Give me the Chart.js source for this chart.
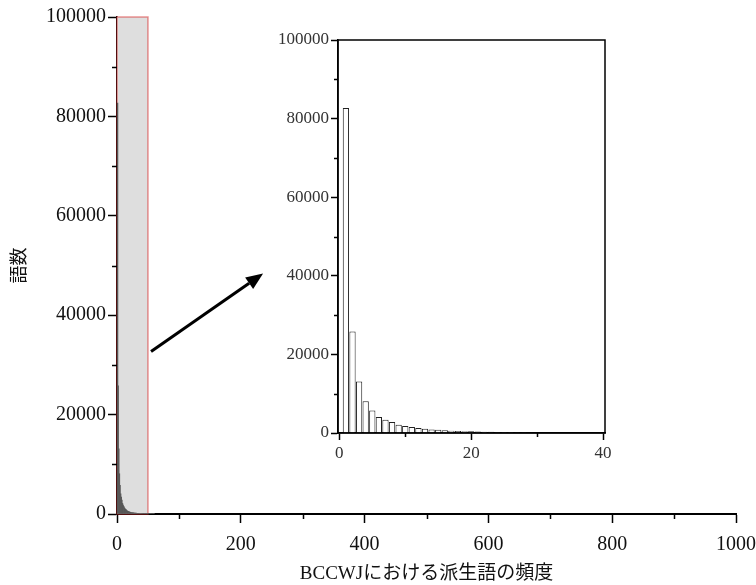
<!DOCTYPE html>
<html lang="ja">
<head>
  <meta charset="UTF-8">
  <title>BCCWJにおける派生語の頻度</title>
  <script src="https://cdn.jsdelivr.net/npm/chart.js"></script>
  <style>
    html, body { margin: 0; padding: 0; background: #fff; }
    #wrap { position: relative; width: 756px; height: 585px; }
    #mainChart { position: absolute; left: 0; top: 0; }
    #insetChart { position: absolute; left: 260px; top: 25px; }
  </style>
</head>
<body>
  <div id="wrap">
    <canvas id="mainChart" width="756" height="585"></canvas>
    <canvas id="insetChart" width="360" height="450"></canvas>
  </div>

  <script>
    // 頻度 (BCCWJ) と語数
    const freqs = [];
    for (let i = 1; i <= 60; i++) freqs.push(i);
    const wordCounts = [
      82700, 25800, 13100, 8100, 5750, 4080, 3380, 2800, 2120, 1780,
      1530, 1270, 1100, 920, 840, 680, 600, 530, 470, 420,
      380, 340, 310, 280, 260, 240, 220, 200, 185, 170,
      160, 150, 140, 130, 122, 115, 108, 100, 95, 90,
      85, 80, 76, 72, 68, 64, 61, 58, 55, 52,
      50, 47, 45, 43, 41, 39, 37, 35, 33, 31
    ];

    // 軸
    const mainXTicks = [0, 200, 400, 600, 800, 1000];
    const mainXMinor = [100, 300, 500, 700, 900];
    const mainYTicks = [0, 20000, 40000, 60000, 80000, 100000];
    const mainYMinor = [10000, 30000, 50000, 70000, 90000];
    const insetXTicks = [0, 20, 40];
    const insetXMinor = [10, 30];
    const insetYTicks = [0, 20000, 40000, 60000, 80000, 100000];
    const insetYMinor = [10000, 30000, 50000, 70000, 90000];

    // 拡大範囲と矢印 (データ座標)
    const zoomRange = { x0: 0, x1: 50, y0: 0, y1: 100000 };
    const arrowFrom = { x: 55, y: 32700 };
    const arrowTo = { x: 236, y: 48400 };

    const FONT = "'Liberation Serif', 'Noto Sans CJK JP', serif";
    const points = freqs.map((f, i) => ({ x: f, y: wordCounts[i] }));
    const plain = v => String(v);

    // 補助目盛り（短い）
    const minorTicks = {
      id: 'minorTicks',
      afterDraw(chart, args, opts) {
        const ctx = chart.ctx;
        const { x, y } = chart.scales;
        ctx.save();
        ctx.strokeStyle = '#000';
        ctx.lineWidth = 1.5;
        ctx.beginPath();
        (opts.x || []).forEach(v => {
          const px = Math.round(x.getPixelForValue(v)) + 0.5;
          ctx.moveTo(px, chart.chartArea.bottom);
          ctx.lineTo(px, chart.chartArea.bottom + opts.len);
        });
        (opts.y || []).forEach(v => {
          const py = Math.round(y.getPixelForValue(v)) + 0.5;
          ctx.moveTo(chart.chartArea.left, py);
          ctx.lineTo(chart.chartArea.left - opts.len, py);
        });
        ctx.stroke();
        ctx.restore();
      }
    };

    // 拡大範囲の網掛けと矢印
    const zoomBox = {
      id: 'zoomBox',
      beforeDatasetsDraw(chart) {
        const ctx = chart.ctx;
        const { x, y } = chart.scales;
        const l = x.getPixelForValue(zoomRange.x0), r = x.getPixelForValue(zoomRange.x1);
        const t = y.getPixelForValue(zoomRange.y1), b = y.getPixelForValue(zoomRange.y0);
        ctx.save();
        ctx.fillStyle = '#dedede';
        ctx.fillRect(l, t, r - l, b - t);
        ctx.strokeStyle = 'rgba(215, 40, 40, 0.5)';
        ctx.lineWidth = 1.5;
        ctx.strokeRect(l, t, r - l, b - t);
        ctx.restore();
      },
      afterDraw(chart) {
        const ctx = chart.ctx;
        const { x, y } = chart.scales;
        const x0 = x.getPixelForValue(arrowFrom.x), y0 = y.getPixelForValue(arrowFrom.y);
        const x1 = x.getPixelForValue(arrowTo.x), y1 = y.getPixelForValue(arrowTo.y);
        const ang = Math.atan2(y1 - y0, x1 - x0);
        const headLen = 17, headW = 7;
        ctx.save();
        ctx.strokeStyle = '#000';
        ctx.fillStyle = '#000';
        ctx.lineWidth = 3;
        ctx.beginPath();
        ctx.moveTo(x0, y0);
        ctx.lineTo(x1 - headLen * Math.cos(ang), y1 - headLen * Math.sin(ang));
        ctx.stroke();
        ctx.beginPath();
        ctx.moveTo(x1, y1);
        ctx.lineTo(x1 - headLen * Math.cos(ang) + headW * Math.sin(ang),
                   y1 - headLen * Math.sin(ang) - headW * Math.cos(ang));
        ctx.lineTo(x1 - headLen * Math.cos(ang) - headW * Math.sin(ang),
                   y1 - headLen * Math.sin(ang) + headW * Math.cos(ang));
        ctx.closePath();
        ctx.fill();
        ctx.restore();
      }
    };

    // 挿入図の枠
    const frameBox = {
      id: 'frameBox',
      afterDraw(chart) {
        const { left, right, top, bottom } = chart.chartArea;
        const ctx = chart.ctx;
        ctx.save();
        ctx.strokeStyle = '#000';
        ctx.lineWidth = 1.5;
        ctx.strokeRect(left, top, right - left, bottom - top);
        ctx.restore();
      }
    };

    new Chart(document.getElementById('mainChart'), {
      type: 'bar',
      data: {
        datasets: [{
          data: points,
          backgroundColor: '#575757',
          borderWidth: 0,
          barPercentage: 1,
          categoryPercentage: 1
        }]
      },
      options: {
        responsive: false,
        animation: false,
        layout: { padding: { top: 17, right: 20, left: 0, bottom: 0 } },
        plugins: {
          legend: { display: false },
          tooltip: { enabled: false },
          minorTicks: { x: mainXMinor, y: mainYMinor, len: 5 }
        },
        scales: {
          x: {
            type: 'linear',
            offset: false,
            min: 0, max: 1000,
            afterFit(s) { s.height = 71; s.paddingLeft = 0; s.paddingRight = 0; },
            afterBuildTicks(s) { s.ticks = mainXTicks.map(v => ({ value: v })); },
            grid: { offset: false, drawOnChartArea: false, tickLength: 9, tickWidth: 1.5, tickColor: '#000' },
            border: { color: '#000', width: 2 },
            ticks: { color: '#111', font: { family: FONT, size: 20 }, padding: 10, maxRotation: 0, callback: plain },
            title: { display: true, text: 'BCCWJにおける派生語の頻度', color: '#111',
                     font: { family: FONT, size: 19 }, padding: { top: 0, bottom: 0 } }
          },
          y: {
            min: 0, max: 100000,
            afterFit(s) { s.width = 117; },
            afterBuildTicks(s) { s.ticks = mainYTicks.map(v => ({ value: v })); },
            grid: { drawOnChartArea: false, tickLength: 9, tickWidth: 1.5, tickColor: '#000' },
            border: { color: '#000', width: 1.5 },
            ticks: { color: '#111', font: { family: FONT, size: 20 }, padding: 2, callback: plain },
            title: { display: true, text: '語数', color: '#111',
                     font: { family: FONT, size: 18 }, padding: { top: 9, bottom: 0 } }
          }
        }
      },
      plugins: [zoomBox, minorTicks]
    });

    new Chart(document.getElementById('insetChart'), {
      type: 'bar',
      data: {
        datasets: [{
          data: points.filter(p => p.x <= 40),
          backgroundColor: '#fff',
          borderColor: '#222',
          borderWidth: 1,
          barPercentage: 0.95,
          categoryPercentage: 1
        }]
      },
      options: {
        responsive: false,
        animation: false,
        layout: { padding: { top: 15, right: 15, left: 0, bottom: 0 } },
        plugins: {
          legend: { display: false },
          tooltip: { enabled: false },
          minorTicks: { x: insetXMinor, y: insetYMinor, len: 4 }
        },
        scales: {
          x: {
            type: 'linear',
            offset: false,
            min: -0.2, max: 40.3,
            afterFit(s) { s.height = 42; },
            afterBuildTicks(s) { s.ticks = insetXTicks.map(v => ({ value: v })); },
            grid: { offset: false, drawOnChartArea: false, tickLength: 7, tickWidth: 1.5, tickColor: '#000' },
            border: { color: '#000', width: 1.5 },
            ticks: { color: '#333', font: { family: FONT, size: 17 }, padding: 3, maxRotation: 0, callback: plain }
          },
          y: {
            min: 0, max: 100000,
            afterFit(s) { s.width = 78; },
            afterBuildTicks(s) { s.ticks = insetYTicks.map(v => ({ value: v })); },
            ticks: { color: '#333', font: { family: FONT, size: 17 }, padding: 2, callback: plain },
            grid: { drawOnChartArea: false, tickLength: 7, tickWidth: 1.5, tickColor: '#000' },
            border: { color: '#000', width: 1.5 }
          }
        }
      },
      plugins: [minorTicks, frameBox]
    });
  </script>
</body>
</html>
